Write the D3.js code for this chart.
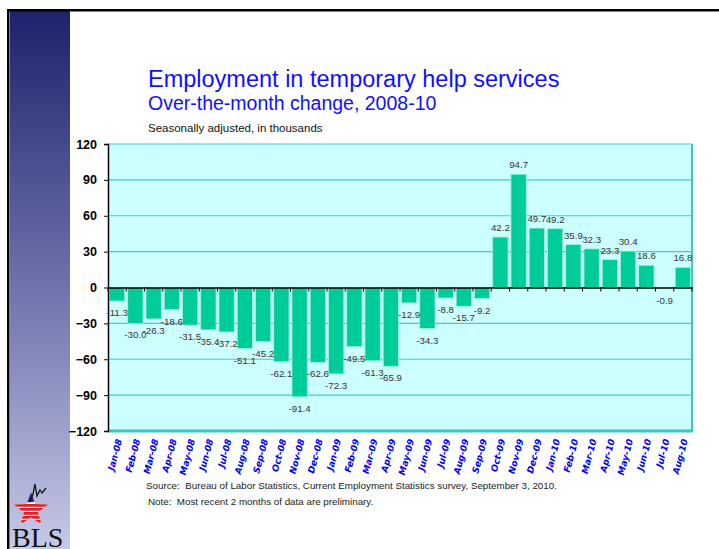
<!DOCTYPE html>
<html>
<head>
<meta charset="utf-8">
<script src="https://cdn.jsdelivr.net/npm/d3@7"></script>
<style>
  body { margin: 0; background: #fff; }
  svg { display: block; }
</style>
</head>
<body>
<script>
// data (thousands, over-the-month change)
const months = ["Jan-08", "Feb-08", "Mar-08", "Apr-08", "May-08", "Jun-08", "Jul-08", "Aug-08",
	"Sep-08", "Oct-08", "Nov-08", "Dec-08", "Jan-09", "Feb-09", "Mar-09", "Apr-09",
	"May-09", "Jun-09", "Jul-09", "Aug-09", "Sep-09", "Oct-09", "Nov-09", "Dec-09",
	"Jan-10", "Feb-10", "Mar-10", "Apr-10", "May-10", "Jun-10", "Jul-10", "Aug-10"];
const changes = [-11.3, -30.0, -26.3, -18.6, -31.5, -35.4, -37.2, -51.1,
	-45.2, -62.1, -91.4, -62.6, -72.3, -49.5, -61.3, -65.9,
	-12.9, -34.3, -8.8, -15.7, -9.2, 42.2, 94.7, 49.7,
	49.2, 35.9, 32.3, 23.3, 30.4, 18.6, -0.9, 16.8];
const yTicks = [-120, -90, -60, -30, 0, 30, 60, 90, 120];

const w = 719, h = 549,
	plot = { left: 108, right: 692, top: 144, bottom: 431 };

const svg = d3.select("body").append("svg")
	.attr("width", w)
	.attr("height", h);

// sidebar
const defs = svg.append("defs");
const grad = defs.append("linearGradient")
	.attr("id", "side")
	.attr("x1", 0).attr("y1", 0).attr("x2", 0).attr("y2", 1);
grad.append("stop").attr("offset", "0%").attr("stop-color", "#1c226c");
grad.append("stop").attr("offset", "55%").attr("stop-color", "#7479b0");
grad.append("stop").attr("offset", "100%").attr("stop-color", "#c6c9e6");

svg.append("rect")
	.attr("x", 10).attr("y", 11)
	.attr("width", 60).attr("height", h - 11)
	.attr("fill", "url(#side)");
svg.append("rect")
	.attr("x", 7).attr("y", 9)
	.attr("width", w - 7).attr("height", 2.5)
	.attr("fill", "#000");
svg.append("rect")
	.attr("x", 7).attr("y", 9)
	.attr("width", 2.5).attr("height", h - 9)
	.attr("fill", "#000");

// titles
svg.append("text")
	.text("Employment in temporary help services")
	.attr("x", 148).attr("y", 87)
	.style("font-family", "Liberation Sans, Arial, sans-serif")
	.style("font-size", "23.5px")
	.attr("fill", "#1010ff");
svg.append("text")
	.text("Over-the-month change, 2008-10")
	.attr("x", 148).attr("y", 110)
	.style("font-family", "Liberation Sans, Arial, sans-serif")
	.style("font-size", "19.5px")
	.attr("fill", "#1010ff");
svg.append("text")
	.text("Seasonally adjusted, in thousands")
	.attr("x", 148).attr("y", 132)
	.style("font-family", "Liberation Sans, Arial, sans-serif")
	.style("font-size", "11.5px")
	.attr("fill", "#111");

// scales
const xScale = d3.scaleBand()
	.domain(months)
	.range([plot.left, plot.right])
	.paddingInner(0.16)
	.paddingOuter(0.08);
const yScale = d3.scaleLinear()
	.domain([-120, 120])
	.range([plot.bottom, plot.top]);
const step = xScale.step();

// plot background
svg.append("rect")
	.attr("x", plot.left).attr("y", plot.top)
	.attr("width", plot.right - plot.left)
	.attr("height", plot.bottom - plot.top)
	.attr("fill", "#ccffff");

// gridlines
svg.append("g")
	.selectAll("line")
	.data(yTicks.filter(d => d !== 0 && d !== -120))
	.enter()
	.append("line")
	.attr("x1", plot.left).attr("x2", plot.right)
	.attr("y1", d => yScale(d)).attr("y2", d => yScale(d))
	.attr("stroke", "#44ccc4")
	.attr("stroke-width", 1.2);

// right and bottom border
svg.append("line")
	.attr("x1", plot.right).attr("x2", plot.right)
	.attr("y1", plot.top).attr("y2", plot.bottom)
	.attr("stroke", "#3cc8c4").attr("stroke-width", 2);
svg.append("line")
	.attr("x1", plot.left).attr("x2", plot.right + 1)
	.attr("y1", plot.bottom).attr("y2", plot.bottom)
	.attr("stroke", "#3cc8c4").attr("stroke-width", 3);

// bars
svg.selectAll("rect.bar")
	.data(changes)
	.enter()
	.append("rect")
	.attr("class", "bar")
	.attr("x", (d, i) => xScale(months[i]))
	.attr("y", d => yScale(Math.max(0, d)))
	.attr("width", xScale.bandwidth())
	.attr("height", d => Math.abs(yScale(d) - yScale(0)))
	.attr("fill", "#00cc99")
	.attr("stroke", "#9ff5d8")
	.attr("stroke-width", 0.8);

// value labels
svg.selectAll("text.val")
	.data(changes)
	.enter()
	.append("text")
	.attr("class", "val")
	.text(d => d.toFixed(1))
	.attr("x", (d, i) => xScale(months[i]) + xScale.bandwidth() / 2)
	.attr("y", d => d >= 0 ? yScale(d) - 6 : yScale(d) + 15)
	.attr("text-anchor", "middle")
	.style("font-family", "Liberation Sans, Arial, sans-serif")
	.style("font-size", "9.7px")
	.attr("fill", "#333");

// zero line with category ticks
const zeroAxis = d3.axisBottom(xScale)
	.tickSize(0)
	.tickFormat("");
svg.append("g")
	.attr("transform", "translate(0," + yScale(0) + ")")
	.call(zeroAxis)
	.call(g => g.select(".domain").attr("stroke", "#000").attr("stroke-width", 1.5));
svg.append("g")
	.selectAll("line")
	.data(d3.range(months.length + 1))
	.enter()
	.append("line")
	.attr("x1", i => plot.left + i * step).attr("x2", i => plot.left + i * step)
	.attr("y1", yScale(0)).attr("y2", yScale(0) + 4)
	.attr("stroke", "#000").attr("stroke-width", 1);

// y axis
const yAxis = d3.axisLeft(yScale)
	.tickValues(yTicks)
	.tickSize(4)
	.tickPadding(7);
svg.append("g")
	.attr("transform", "translate(" + plot.left + ",0)")
	.call(yAxis)
	.call(g => g.select(".domain").attr("stroke", "#000").attr("stroke-width", 1.5))
	.call(g => g.selectAll(".tick line").attr("stroke", "#000"))
	.call(g => g.selectAll(".tick text")
		.style("font-family", "Liberation Sans, Arial, sans-serif")
		.style("font-size", "12.5px")
		.style("font-weight", "bold")
		.attr("fill", "#000"));

// month labels
svg.append("g")
	.selectAll("text")
	.data(months)
	.enter()
	.append("text")
	.text(d => d)
	.attr("text-anchor", "end")
	.attr("transform", d => "translate(" + (xScale(d) + xScale.bandwidth() / 2 + 5) + "," + 440 + ") rotate(-75)")
	.style("font-family", "DejaVu Sans, Verdana, sans-serif")
	.style("font-size", "9px")
	.style("font-weight", "bold")
	.style("font-style", "italic")
	.attr("fill", "#0000ff");

// notes
svg.append("text")
	.text("Source:  Bureau of Labor Statistics, Current Employment Statistics survey, September 3, 2010.")
	.attr("x", 146).attr("y", 489)
	.style("white-space", "pre")
	.style("font-family", "Liberation Sans, Arial, sans-serif")
	.style("font-size", "9.8px")
	.attr("fill", "#222");
svg.append("text")
	.text("Note:  Most recent 2 months of data are preliminary.")
	.attr("x", 148).attr("y", 505)
	.style("white-space", "pre")
	.style("font-family", "Liberation Sans, Arial, sans-serif")
	.style("font-size", "9.8px")
	.attr("fill", "#222");

// BLS logo
const logo = svg.append("g");
const star = d3.range(10).map(i => {
	const a = -Math.PI / 2 + i * Math.PI / 5,
		r = i % 2 ? 7.5 : 18;
	return [31 + r * Math.cos(a), 510 + r * Math.sin(a)];
});
defs.append("clipPath").attr("id", "starClip")
	.append("polygon").attr("points", star.join(" "));
const starG = logo.append("g").attr("clip-path", "url(#starClip)");
starG.append("rect").attr("x", 10).attr("y", 490).attr("width", 44).attr("height", 40).attr("fill", "#fff");
starG.selectAll("rect.stripe")
	.data(d3.range(6))
	.enter()
	.append("rect")
	.attr("class", "stripe")
	.attr("x", 10).attr("y", i => 504 + i * 4)
	.attr("width", 44).attr("height", 2.8)
	.attr("fill", "#e0202a");
starG.append("polygon")
	.attr("points", "10,490 46,490 42,501 10,504")
	.attr("fill", "#1c2a8c");
logo.append("polyline")
	.attr("points", "30,502 33,494 35,484 37,496 40,490 42,493 46,488")
	.attr("fill", "none")
	.attr("stroke", "#111")
	.attr("stroke-width", 1.3);
logo.append("text")
	.text("BLS")
	.attr("x", 12).attr("y", 547)
	.style("font-family", "Liberation Serif, Times New Roman, serif")
	.style("font-size", "28px")
	.attr("fill", "#111");
</script>
</body>
</html>
